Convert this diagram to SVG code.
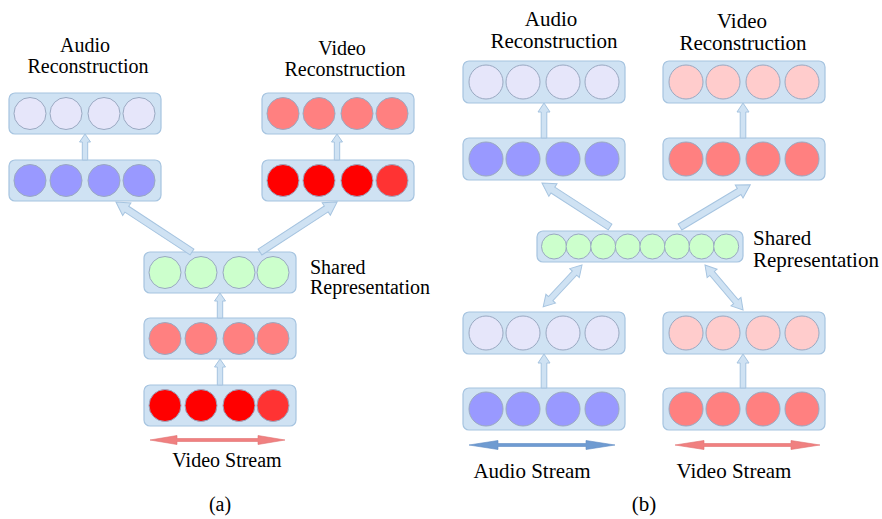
<svg xmlns="http://www.w3.org/2000/svg" width="882" height="519" viewBox="0 0 882 519" font-family="'Liberation Serif', 'DejaVu Serif', serif">
  <style>
    .box { fill: #cfe2f3; stroke: #a6c4e0; stroke-width: 1.2; }
    .c { stroke: #9aa9c2; stroke-width: 1; }
    .lav { fill: #e6e6fa; }
    .blu { fill: #9999ff; }
    .sal { fill: #ff8080; }
    .red { fill: #ff0000; }
    .red2 { fill: #ff3333; }
    .pnk { fill: #ffcccc; }
    .grn { fill: #ccffcc; }
    .blk { fill: #cfe2f3; stroke: #a6c4e0; stroke-width: 1; }
    .sa { fill: #6f9bd1; stroke: #5f8bc4; stroke-width: 0.6; }
    .sv { fill: #f08080; stroke: #e07070; stroke-width: 0.6; }
    .lbl { font-family: 'Liberation Serif', 'DejaVu Serif', serif; fill: #000; }
    .fa { font-size: 20px; }
    .fb { font-size: 21px; }
    .mid { text-anchor: middle; }
  </style>

  <!-- ===== Panel (a): video-only deep autoencoder ===== -->
  <g id="a-audio-recon">
    <rect class="box" x="9" y="93" width="152" height="41" rx="6"/>
    <circle class="c lav" cx="30" cy="113.5" r="16"/>
    <circle class="c lav" cx="66" cy="113.5" r="16"/>
    <circle class="c lav" cx="104" cy="113.5" r="16"/>
    <circle class="c lav" cx="139" cy="113.5" r="16"/>
    <text class="lbl fa mid" x="85" y="52">Audio</text>
    <text class="lbl fa mid" x="88" y="73">Reconstruction</text>
  </g>
  <g id="a-audio-hidden">
    <rect class="box" x="9" y="160" width="152" height="41" rx="6"/>
    <circle class="c blu" cx="30" cy="180.5" r="16"/>
    <circle class="c blu" cx="66" cy="180.5" r="16"/>
    <circle class="c blu" cx="104" cy="180.5" r="16"/>
    <circle class="c blu" cx="139" cy="180.5" r="16"/>
  </g>
  <g id="a-video-recon">
    <rect class="box" x="262" y="93" width="152" height="41" rx="6"/>
    <circle class="c sal" cx="283" cy="113.5" r="16"/>
    <circle class="c sal" cx="319" cy="113.5" r="16"/>
    <circle class="c sal" cx="357" cy="113.5" r="16"/>
    <circle class="c sal" cx="392" cy="113.5" r="16"/>
    <text class="lbl fa mid" x="342" y="55">Video</text>
    <text class="lbl fa mid" x="345" y="76">Reconstruction</text>
  </g>
  <g id="a-video-hidden">
    <rect class="box" x="262" y="160" width="152" height="41" rx="6"/>
    <circle class="c red" cx="283" cy="180.5" r="16"/>
    <circle class="c red" cx="319" cy="180.5" r="16"/>
    <circle class="c red" cx="357" cy="180.5" r="16"/>
    <circle class="c red2" cx="392" cy="180.5" r="16"/>
  </g>
  <g id="a-shared">
    <rect class="box" x="144" y="252" width="152" height="41" rx="6"/>
    <circle class="c grn" cx="165" cy="272.5" r="16"/>
    <circle class="c grn" cx="201" cy="272.5" r="16"/>
    <circle class="c grn" cx="239" cy="272.5" r="16"/>
    <circle class="c grn" cx="273" cy="272.5" r="16"/>
    <text class="lbl fa" x="310" y="274">Shared</text>
    <text class="lbl fa" x="310" y="294">Representation</text>
  </g>
  <g id="a-video-hidden-in">
    <rect class="box" x="144" y="318" width="152" height="41" rx="6"/>
    <circle class="c sal" cx="165" cy="338.5" r="16"/>
    <circle class="c sal" cx="201" cy="338.5" r="16"/>
    <circle class="c sal" cx="239" cy="338.5" r="16"/>
    <circle class="c sal" cx="273" cy="338.5" r="16"/>
  </g>
  <g id="a-video-input">
    <rect class="box" x="144" y="385" width="152" height="41" rx="6"/>
    <circle class="c red" cx="165" cy="405.5" r="16"/>
    <circle class="c red" cx="201" cy="405.5" r="16"/>
    <circle class="c red" cx="239" cy="405.5" r="16"/>
    <circle class="c red2" cx="273" cy="405.5" r="16"/>
    <text class="lbl fa mid" x="227" y="467">Video Stream</text>
  </g>
  <text class="lbl fa mid" x="220" y="511">(a)</text>

  <!-- ===== Panel (b): bimodal deep autoencoder ===== -->
  <g id="b-audio-recon">
    <rect class="box" x="463" y="61" width="162" height="42" rx="6"/>
    <circle class="c lav" cx="486" cy="82" r="17"/>
    <circle class="c lav" cx="523" cy="82" r="17"/>
    <circle class="c lav" cx="563" cy="82" r="17"/>
    <circle class="c lav" cx="602" cy="82" r="17"/>
    <text class="lbl fb mid" x="551" y="26">Audio</text>
    <text class="lbl fb mid" x="554" y="48">Reconstruction</text>
  </g>
  <g id="b-audio-hidden">
    <rect class="box" x="463" y="138" width="162" height="42" rx="6"/>
    <circle class="c blu" cx="486" cy="159" r="17"/>
    <circle class="c blu" cx="523" cy="159" r="17"/>
    <circle class="c blu" cx="563" cy="159" r="17"/>
    <circle class="c blu" cx="602" cy="159" r="17"/>
  </g>
  <g id="b-video-recon">
    <rect class="box" x="663" y="61" width="162" height="42" rx="6"/>
    <circle class="c pnk" cx="686" cy="82" r="17"/>
    <circle class="c pnk" cx="723" cy="82" r="17"/>
    <circle class="c pnk" cx="763" cy="82" r="17"/>
    <circle class="c pnk" cx="802" cy="82" r="17"/>
    <text class="lbl fb mid" x="742" y="28">Video</text>
    <text class="lbl fb mid" x="743" y="50">Reconstruction</text>
  </g>
  <g id="b-video-hidden">
    <rect class="box" x="663" y="138" width="162" height="42" rx="6"/>
    <circle class="c sal" cx="686" cy="159" r="17"/>
    <circle class="c sal" cx="723" cy="159" r="17"/>
    <circle class="c sal" cx="763" cy="159" r="17"/>
    <circle class="c sal" cx="802" cy="159" r="17"/>
  </g>
  <g id="b-shared">
    <rect class="box" x="537" y="231" width="206" height="31" rx="6"/>
    <circle class="c grn" cx="554" cy="246.5" r="12.5"/>
    <circle class="c grn" cx="578.6" cy="246.5" r="12.5"/>
    <circle class="c grn" cx="603.2" cy="246.5" r="12.5"/>
    <circle class="c grn" cx="627.8" cy="246.5" r="12.5"/>
    <circle class="c grn" cx="652.4" cy="246.5" r="12.5"/>
    <circle class="c grn" cx="677" cy="246.5" r="12.5"/>
    <circle class="c grn" cx="701.6" cy="246.5" r="12.5"/>
    <circle class="c grn" cx="726.2" cy="246.5" r="12.5"/>
    <text class="lbl fb" x="753" y="245">Shared</text>
    <text class="lbl fb" x="753" y="267">Representation</text>
  </g>
  <g id="b-audio-hidden-in">
    <rect class="box" x="463" y="312" width="162" height="42" rx="6"/>
    <circle class="c lav" cx="486" cy="333" r="17"/>
    <circle class="c lav" cx="523" cy="333" r="17"/>
    <circle class="c lav" cx="563" cy="333" r="17"/>
    <circle class="c lav" cx="602" cy="333" r="17"/>
  </g>
  <g id="b-video-hidden-in">
    <rect class="box" x="663" y="312" width="162" height="42" rx="6"/>
    <circle class="c pnk" cx="686" cy="333" r="17"/>
    <circle class="c pnk" cx="723" cy="333" r="17"/>
    <circle class="c pnk" cx="763" cy="333" r="17"/>
    <circle class="c pnk" cx="802" cy="333" r="17"/>
  </g>
  <g id="b-audio-input">
    <rect class="box" x="463" y="388" width="162" height="42" rx="6"/>
    <circle class="c blu" cx="486" cy="409" r="17"/>
    <circle class="c blu" cx="523" cy="409" r="17"/>
    <circle class="c blu" cx="563" cy="409" r="17"/>
    <circle class="c blu" cx="602" cy="409" r="17"/>
    <text class="lbl fb mid" x="532" y="478">Audio Stream</text>
  </g>
  <g id="b-video-input">
    <rect class="box" x="663" y="388" width="162" height="42" rx="6"/>
    <circle class="c sal" cx="686" cy="409" r="17"/>
    <circle class="c sal" cx="723" cy="409" r="17"/>
    <circle class="c sal" cx="763" cy="409" r="17"/>
    <circle class="c sal" cx="802" cy="409" r="17"/>
    <text class="lbl fb mid" x="734" y="478">Video Stream</text>
  </g>
  <text class="lbl fb mid" x="644" y="511">(b)</text>

  <!-- ===== Connectors: block arrows drawn along +x, then placed ===== -->
  <g id="connectors">
    <!-- panel (a) -->
    <polygon class="blk" transform="translate(85,160) rotate(-90)" points="0,-2.7 18,-2.7 18,-5.5 26,0 18,5.5 18,2.7 0,2.7"/>
    <polygon class="blk" transform="translate(337,160) rotate(-90)" points="0,-2.7 18,-2.7 18,-5.5 26,0 18,5.5 18,2.7 0,2.7"/>
    <polygon class="blk" transform="translate(192,252) rotate(-146.7)" points="0,-3.5 78,-3.5 78,-7.5 91,0 78,7.5 78,3.5 0,3.5"/>
    <polygon class="blk" transform="translate(260,252) rotate(-33)" points="0,-3.5 79,-3.5 79,-7.5 92,0 79,7.5 79,3.5 0,3.5"/>
    <polygon class="blk" transform="translate(220,318) rotate(-90)" points="0,-2.7 17,-2.7 17,-5.5 25,0 17,5.5 17,2.7 0,2.7"/>
    <polygon class="blk" transform="translate(220,385) rotate(-90)" points="0,-2.7 18,-2.7 18,-5.5 26,0 18,5.5 18,2.7 0,2.7"/>
    <polygon class="sv" transform="translate(150,440)" points="0,0 27,-4.5 27,-1.5 108,-1.5 108,-4.5 135,0 108,4.5 108,1.5 27,1.5 27,4.5"/>

    <!-- panel (b) -->
    <polygon class="blk" transform="translate(544,138) rotate(-90)" points="0,-2.8 26,-2.8 26,-6 35,0 26,6 26,2.8 0,2.8"/>
    <polygon class="blk" transform="translate(743,138) rotate(-90)" points="0,-2.8 26,-2.8 26,-6 35,0 26,6 26,2.8 0,2.8"/>
    <polygon class="blk" transform="translate(610,227) rotate(-147.1)" points="0,-3.5 68,-3.5 68,-7.5 81,0 68,7.5 68,3.5 0,3.5"/>
    <polygon class="blk" transform="translate(680,227) rotate(-31)" points="0,-3.5 69,-3.5 69,-7.5 82,0 69,7.5 69,3.5 0,3.5"/>
    <polygon class="blk" transform="translate(582,265) rotate(132.9)" points="0,0 11,-6.5 11,-3 46,-3 46,-6.5 57,0 46,6.5 46,3 11,3 11,6.5"/>
    <polygon class="blk" transform="translate(705,265) rotate(49.8)" points="0,0 11,-6.5 11,-3 48,-3 48,-6.5 59,0 48,6.5 48,3 11,3 11,6.5"/>
    <polygon class="blk" transform="translate(544,388) rotate(-90)" points="0,-2.8 25,-2.8 25,-6 34,0 25,6 25,2.8 0,2.8"/>
    <polygon class="blk" transform="translate(743,388) rotate(-90)" points="0,-2.8 25,-2.8 25,-6 34,0 25,6 25,2.8 0,2.8"/>
    <polygon class="sa" transform="translate(469,445)" points="0,0 29,-4.5 29,-1.5 117,-1.5 117,-4.5 146,0 117,4.5 117,1.5 29,1.5 29,4.5"/>
    <polygon class="sv" transform="translate(675,445)" points="0,0 29,-4.5 29,-1.5 116,-1.5 116,-4.5 145,0 116,4.5 116,1.5 29,1.5 29,4.5"/>
  </g>
</svg>
